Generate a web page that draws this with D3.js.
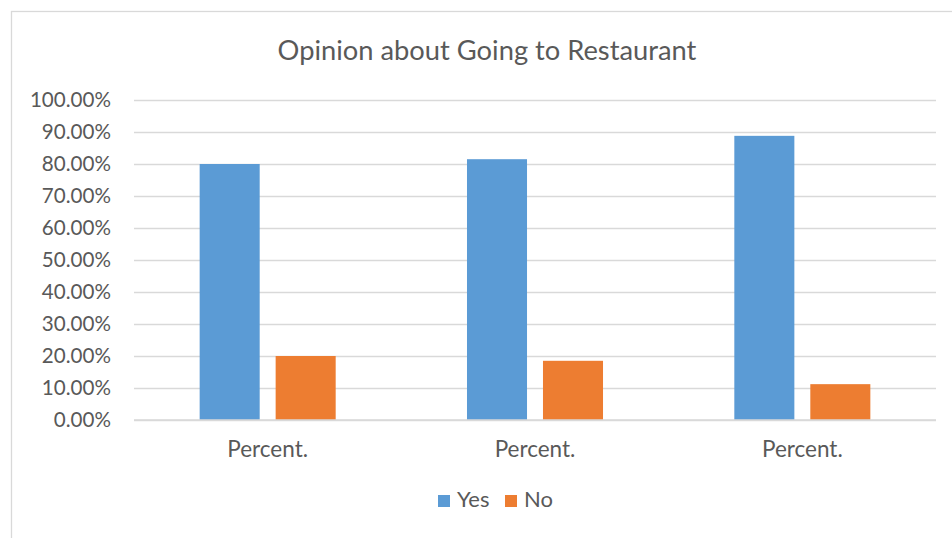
<!DOCTYPE html>
<html>
<head>
<meta charset="utf-8">
<script src="https://cdn.jsdelivr.net/npm/d3@7/dist/d3.min.js"></script>
<style>
  html, body { margin: 0; padding: 0; background: #fff; }
  svg { display: block; font-family: Lato, "Open Sans", sans-serif; }
</style>
</head>
<body>
<svg id="chart" width="952" height="538"></svg>
<script>
// Survey results: share of respondents for each answer
const categories = ["Percent.", "Percent.", "Percent."];
const seriesNames = ["Yes", "No"];
const yesValues = [0.80, 0.815, 0.888];
const noValues = [0.20, 0.185, 0.112];
const yTicks = [0, 0.1, 0.2, 0.3, 0.4, 0.5, 0.6, 0.7, 0.8, 0.9, 1.0];
const colors = ["#5b9bd5", "#ed7d31"];
const title = "Opinion about Going to Restaurant";

const svg = d3.select("#chart");
const W = 952, H = 538;
const plot = { left: 134, right: 936, top: 100, bottom: 420 };
const textColor = "#595959";
const gridColor = "#d9d9d9";
const fontFamily = "Lato, 'Open Sans', sans-serif";

// chart frame (left and top edges visible, the rest runs off the page)
svg.append("rect")
  .attr("x", 11.5).attr("y", 11.5)
  .attr("width", W + 20).attr("height", H + 20)
  .attr("fill", "#fff")
  .attr("stroke", gridColor)
  .attr("stroke-width", 1.3);

// title
svg.append("text")
  .attr("x", 487).attr("y", 60)
  .attr("text-anchor", "middle")
  .attr("fill", textColor)
  .attr("font-size", 27.3)
  .text(title);

const y = d3.scaleLinear().domain([0, 1]).range([plot.bottom, plot.top]);

// x scales: outer one per category slot, inner one per series
const x0 = d3.scaleBand()
  .domain(d3.range(categories.length))
  .range([plot.left, plot.right])
  .padding(0);
const x1 = d3.scaleBand()
  .domain(seriesNames)
  .range([0, x0.bandwidth()])
  .paddingInner(0.21)
  .paddingOuter(0.864);

// gridlines + y labels via axis
const yAxis = d3.axisLeft(y)
  .tickValues(yTicks)
  .tickFormat(d => (d * 100).toFixed(2) + "%")
  .tickSize(-(plot.right - plot.left))
  .tickPadding(23);

const gy = svg.append("g")
  .attr("transform", `translate(${plot.left},0)`)
  .call(yAxis);
gy.select(".domain").remove();
gy.selectAll(".tick line")
  .attr("stroke", gridColor)
  .attr("stroke-width", 1.3);
gy.selectAll(".tick text")
  .attr("fill", textColor)
  .attr("font-size", 20.6)
  .attr("font-family", fontFamily);

// bars
const rows = categories.map((c, i) => ({ i, values: [yesValues[i], noValues[i]] }));
const groups = svg.append("g").selectAll("g")
  .data(rows)
  .join("g")
  .attr("transform", d => `translate(${x0(d.i)},0)`);

groups.selectAll("rect")
  .data(d => d.values.map((v, k) => ({ key: seriesNames[k], value: v, k })))
  .join("rect")
  .attr("x", d => x1(d.key))
  .attr("y", d => y(d.value))
  .attr("width", x1.bandwidth())
  .attr("height", d => y(0) - y(d.value))
  .attr("fill", d => colors[d.k]);

// redraw baseline over bars
svg.append("line")
  .attr("x1", plot.left).attr("x2", plot.right)
  .attr("y1", y(0)).attr("y2", y(0))
  .attr("stroke", gridColor)
  .attr("stroke-width", 1.3);

// category labels
const xAxis = d3.axisBottom(x0)
  .tickFormat(i => categories[i])
  .tickSize(0)
  .tickPadding(0);
const gx = svg.append("g")
  .attr("transform", `translate(0,${plot.bottom})`)
  .call(xAxis);
gx.select(".domain").remove();
gx.selectAll(".tick text")
  .attr("y", 37)
  .attr("dy", null)
  .attr("fill", textColor)
  .attr("font-size", 22.5)
  .attr("font-family", fontFamily);

// legend
const legendItems = [
  { name: seriesNames[0], color: colors[0], x: 438 },
  { name: seriesNames[1], color: colors[1], x: 505 }
];
const lg = svg.append("g").selectAll("g")
  .data(legendItems)
  .join("g")
  .attr("transform", d => `translate(${d.x},495)`);
lg.append("rect")
  .attr("width", 12).attr("height", 12)
  .attr("fill", d => d.color);
lg.append("text")
  .attr("x", 19).attr("y", 12)
  .attr("fill", textColor)
  .attr("font-size", 22)
  .text(d => d.name);
</script>
</body>
</html>
